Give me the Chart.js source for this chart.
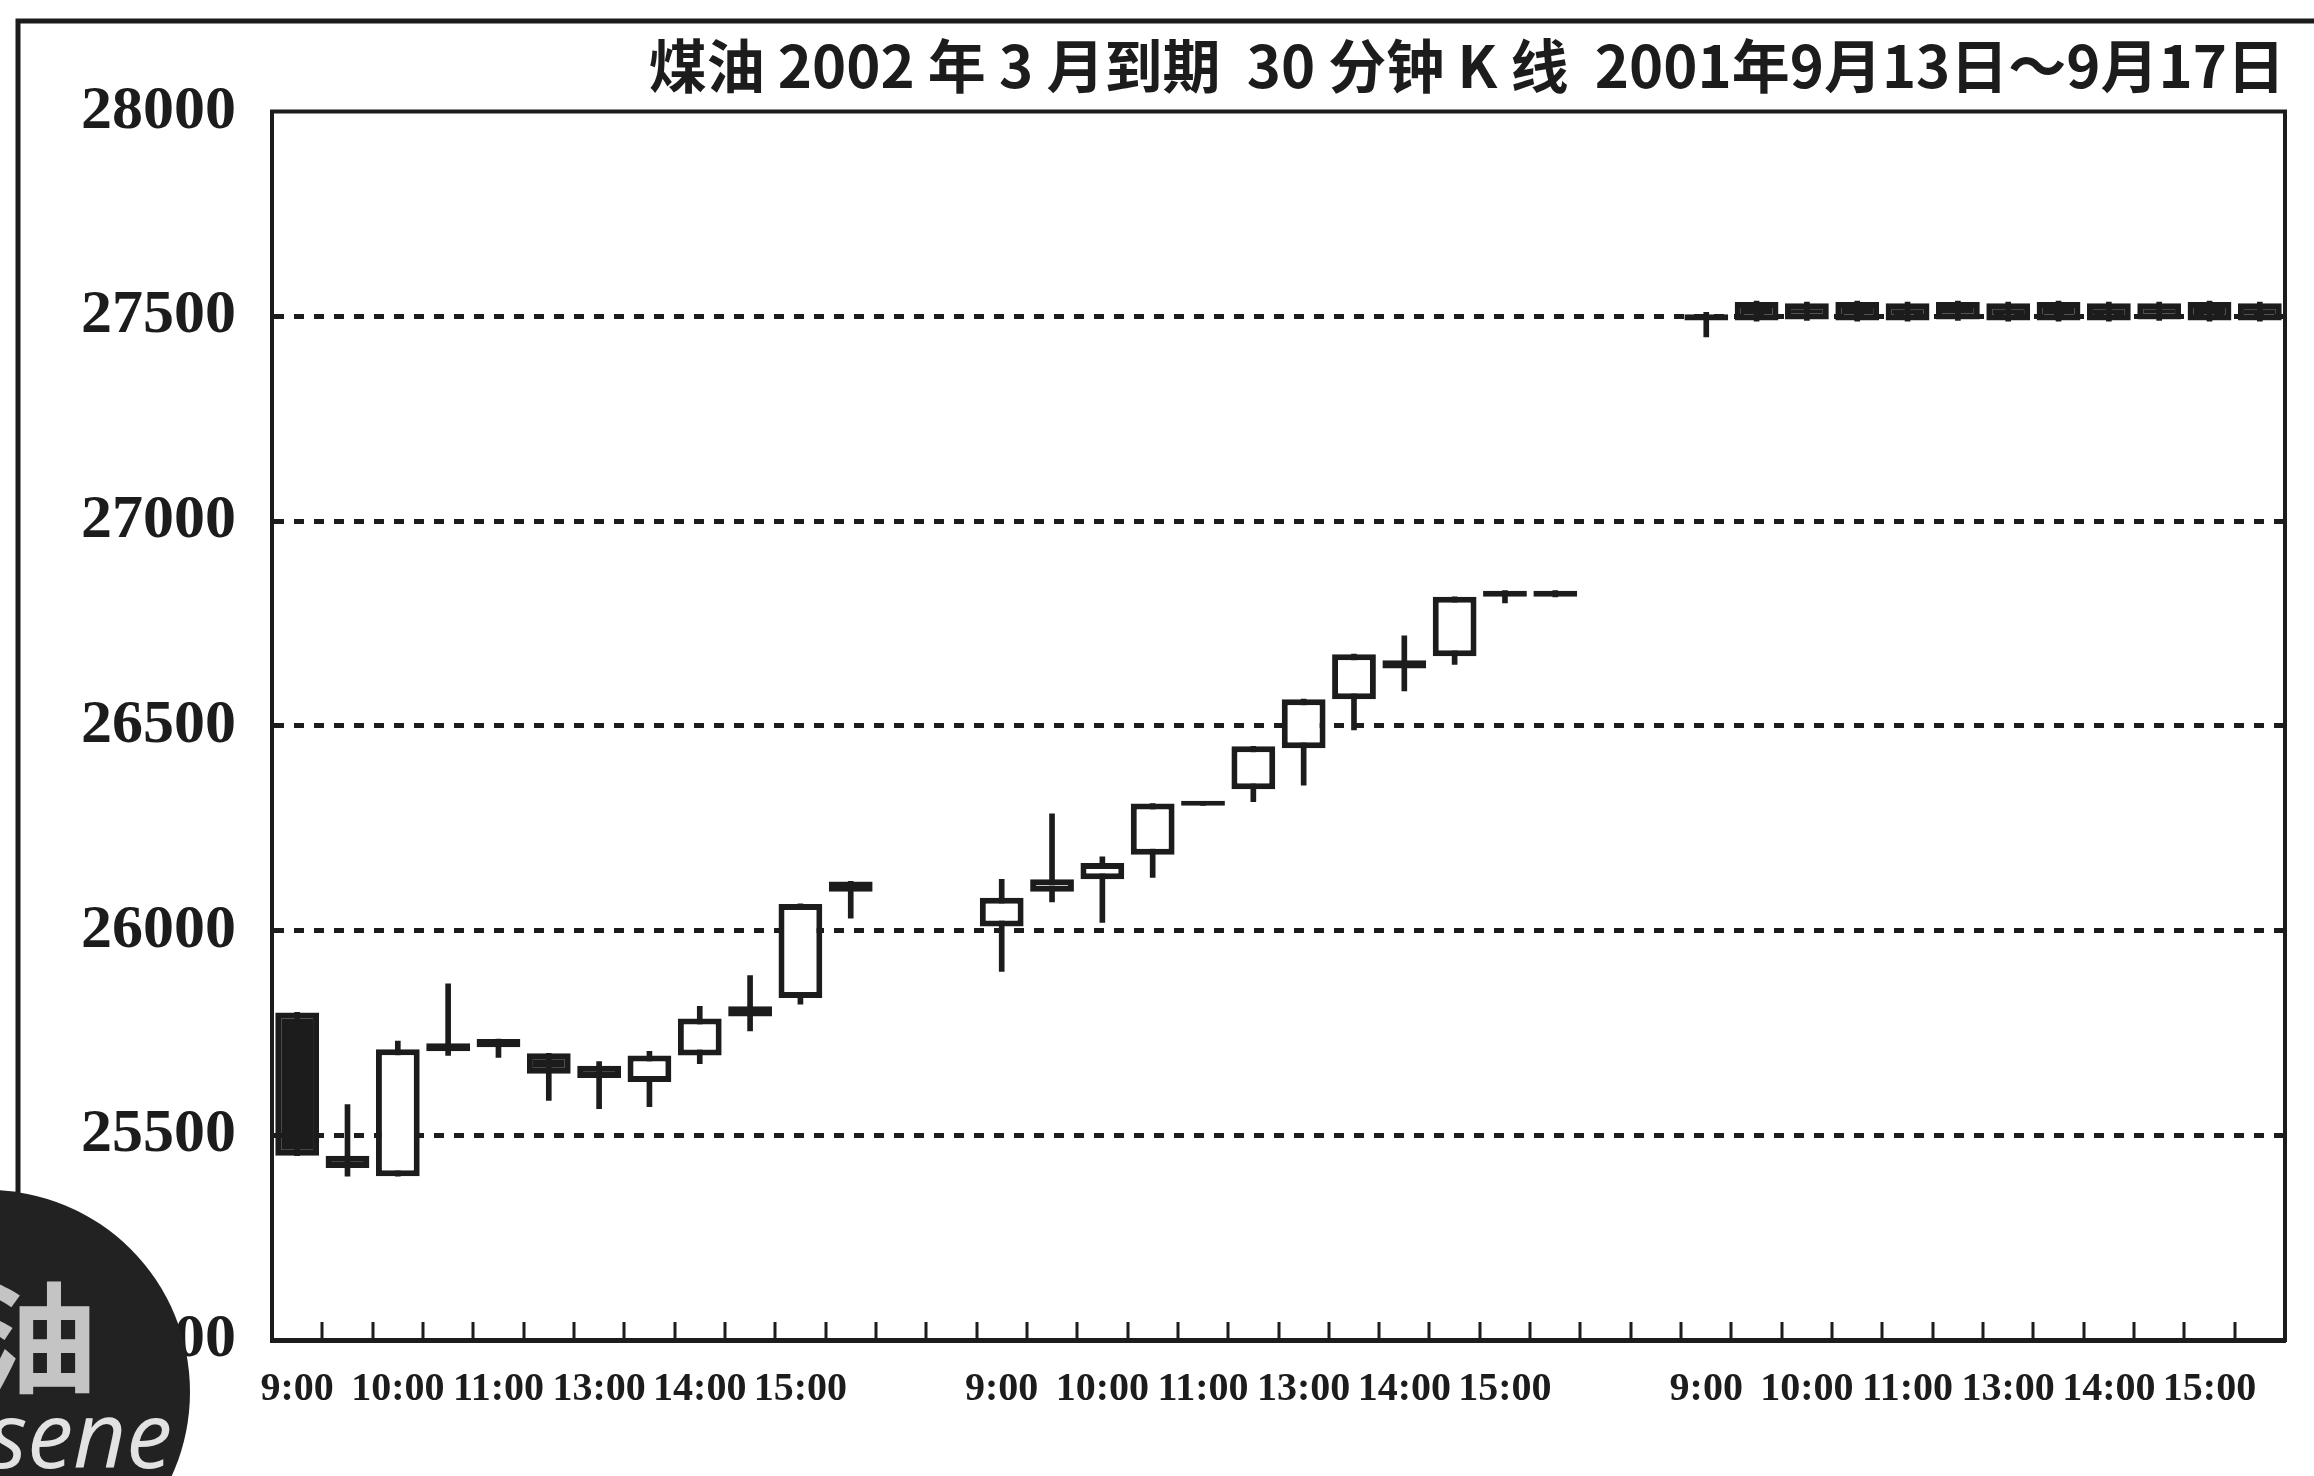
<!DOCTYPE html>
<html>
<head>
<meta charset="utf-8">
<title>煤油 30 分钟 K 线</title>
<script src="https://cdn.jsdelivr.net/npm/chart.js@4.4.1/dist/chart.umd.min.js"></script>
<style>
  html, body { margin: 0; padding: 0; background: #fff; }
  #kline { display: block; }
</style>
</head>
<body>
<canvas id="kline" width="2314" height="1476"></canvas>
<script>
"use strict";

// 30-minute sessions of one trading day
let sessionTimes = ['9:00', '9:30', '10:00', '10:30', '11:00', '11:30', '13:00', '13:30', '14:00', '14:30', '15:00', '15:30'];
let tradingDays = ['9月13日', '9月14日', '9月17日'];
let gapSlots = 2;

// one value per slot, null for the empty slots between days
let opens = [
  25800, 25450, 25400, 25725, 25735, 25700, 25670, 25630, 25695, 25815, 25835, 26120,
  null, null,
  26010, 26095, 26125, 26185, 26305, 26345, 26445, 26565, 26640, 26670, 26830, 26830,
  null, null,
  27490, 27535, 27532, 27535, 27532, 27535, 27532, 27535, 27532, 27532, 27535, 27532
];
let highs = [
  25800, 25575, 25730, 25870, 25735, 25700, 25680, 25705, 25815, 25890, 26065, 26120,
  null, null,
  26125, 26285, 26180, 26310, 26305, 26450, 26565, 26675, 26720, 26815, 26830, 26830,
  null, null,
  27510, 27537, 27535, 27537, 27535, 27537, 27535, 27537, 27535, 27535, 27537, 27535
];
let lows = [
  25450, 25400, 25400, 25695, 25690, 25585, 25565, 25570, 25675, 25755, 25820, 26030,
  null, null,
  25900, 26070, 26020, 26130, 26305, 26315, 26355, 26490, 26585, 26650, 26800, 26815,
  null, null,
  27450, 27488, 27490, 27488, 27488, 27490, 27488, 27488, 27488, 27490, 27488, 27488
];
let closes = [
  25450, 25420, 25710, 25705, 25715, 25650, 25640, 25695, 25785, 25790, 26065, 26095,
  null, null,
  26080, 26125, 26165, 26310, 26305, 26450, 26565, 26675, 26660, 26815, 26815, 26815,
  null, null,
  27505, 27490, 27492, 27490, 27490, 27492, 27490, 27490, 27490, 27492, 27490, 27490
];

let yMin = 25000;
let yMax = 28000;
let yStep = 500;

let ink = '#1c1c1c';

// build the category list: 12 slots per day plus empty slots between days
let categories = [];
for (let d = 0; d < tradingDays.length; d++) {
  for (let i = 0; i < sessionTimes.length; i++) {
    categories.push(sessionTimes[i]);
  }
  if (d < tradingDays.length - 1) {
    for (let g = 0; g < gapSlots; g++) {
      categories.push('');
    }
  }
}

let bodies = [];
let wicks = [];
for (let i = 0; i < categories.length; i++) {
  if (opens[i] === null) {
    bodies.push(null);
    wicks.push(null);
  } else {
    bodies.push([opens[i], closes[i]]);
    wicks.push([lows[i], highs[i]]);
  }
}

function isUp(i) {
  return closes[i] >= opens[i];
}

// frame lines, small inward tick marks and the corner badge
let decorations = {
  id: 'decorations',
  afterDraw(chart) {
    let ctx = chart.ctx;
    let area = chart.chartArea;
    let xScale = chart.scales.x;

    ctx.save();
    ctx.strokeStyle = ink;
    ctx.lineCap = 'butt';

    // top and right edges of the plot box
    ctx.lineWidth = 4;
    ctx.beginPath();
    ctx.moveTo(area.left - 2, area.top);
    ctx.lineTo(area.right, area.top);
    ctx.lineTo(area.right, area.bottom + 2);
    ctx.stroke();

    // tick marks between slots, pointing up into the plot
    let slot = xScale.width / categories.length;
    ctx.lineWidth = 3;
    ctx.beginPath();
    for (let i = 1; i < categories.length; i++) {
      let x = Math.round(xScale.left + i * slot);
      ctx.moveTo(x, area.bottom);
      ctx.lineTo(x, area.bottom - 18);
    }
    ctx.stroke();

    // outer page frame
    ctx.lineWidth = 5;
    ctx.beginPath();
    ctx.moveTo(18, 1476);
    ctx.lineTo(18, 21);
    ctx.lineTo(2314, 21);
    ctx.stroke();

    // dark round badge in the bottom-left corner
    ctx.fillStyle = '#222';
    ctx.beginPath();
    ctx.arc(-12, 1392, 202, 0, Math.PI * 2);
    ctx.fill();

    ctx.fillStyle = '#c4c4c4';
    ctx.font = 'bold 120px "Noto Sans CJK SC"';
    ctx.textAlign = 'center';
    ctx.textBaseline = 'middle';
    ctx.fillText('油', 37, 1338);

    ctx.fillStyle = '#e2e2e2';
    ctx.font = 'italic 92px "Open Sans"';
    ctx.textAlign = 'right';
    ctx.textBaseline = 'alphabetic';
    ctx.fillText('Kerosene', 172, 1468);
    ctx.restore();
  }
};

let config = {
  type: 'bar',
  data: {
    labels: categories,
    datasets: [
      {
        label: 'body',
        data: bodies,
        order: 0,
        grouped: false,
        categoryPercentage: 1,
        barPercentage: 0.87,
        minBarLength: 5,
        borderSkipped: false,
        borderWidth: 6,
        borderColor: ink,
        backgroundColor: function(c) {
          return isUp(c.dataIndex) ? '#ffffff' : ink;
        }
      },
      {
        label: 'wick',
        data: wicks,
        order: 1,
        grouped: false,
        barThickness: 5,
        borderWidth: 0,
        backgroundColor: ink
      }
    ]
  },
  options: {
    responsive: false,
    animation: false,
    devicePixelRatio: 1,
    layout: {
      padding: { left: 0, right: 29, top: 0, bottom: 0 }
    },
    plugins: {
      legend: { display: false },
      tooltip: { enabled: false },
      title: {
        display: true,
        text: '煤油 2002 年 3 月到期  30 分钟 K 线  2001年9月13日～9月17日',
        align: 'end',
        color: ink,
        font: { family: '"Noto Sans CJK SC"', size: 58, weight: 'bold', lineHeight: 1.2 },
        padding: { top: 31, bottom: 11 }
      }
    },
    scales: {
      x: {
        grid: { display: false },
        border: { display: true, color: ink, width: 5 },
        ticks: {
          autoSkip: false,
          maxRotation: 0,
          minRotation: 0,
          padding: 18,
          color: ink,
          font: { family: '"Liberation Serif"', size: 40, weight: 'bold' },
          callback: function(value) {
            let t = this.getLabelForValue(value);
            return t.endsWith(':00') ? t : '';
          }
        },
        afterFit: function(scale) {
          scale.height = 136;
        }
      },
      y: {
        min: yMin,
        max: yMax,
        grid: {
          drawTicks: false,
          lineWidth: 5,
          color: function(c) {
            if (c.tick.value === yMin || c.tick.value === yMax) {
              return 'rgba(0,0,0,0)';
            }
            return ink;
          }
        },
        border: { display: true, color: ink, width: 4, dash: [10, 10] },
        ticks: {
          stepSize: yStep,
          padding: 36,
          color: ink,
          font: { family: '"Liberation Serif"', size: 62, weight: 'bold' },
          callback: function(value) {
            return String(value);
          }
        },
        afterFit: function(scale) {
          scale.width = 272;
        }
      }
    }
  },
  plugins: [decorations]
};

let klineChart = new Chart(document.getElementById('kline'), config);
</script>
</body>
</html>
